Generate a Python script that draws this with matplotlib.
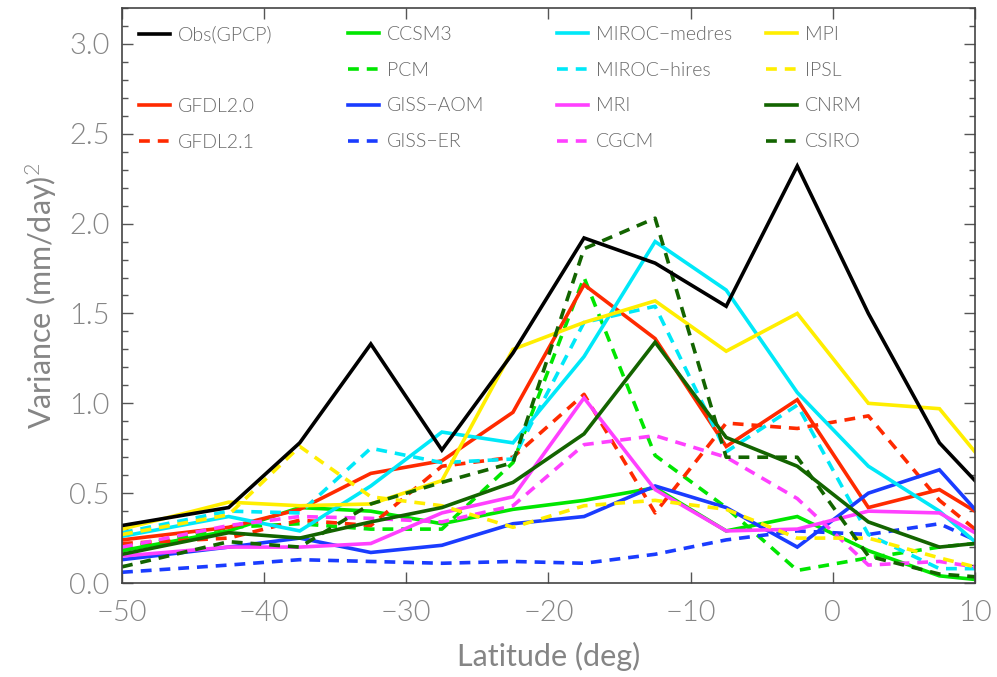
import matplotlib
matplotlib.use("Agg")
import matplotlib.pyplot as plt
from matplotlib.lines import Line2D
from matplotlib.legend import Legend
from matplotlib import font_manager as fm

lat = [-50, -42.5, -37.5, -32.5, -27.5, -22.5, -17.5, -12.5, -7.5, -2.5, 2.5, 7.5, 10]

obs     = [0.32, 0.42, 0.78, 1.33, 0.74, 1.28, 1.92, 1.78, 1.54, 2.32, 1.50, 0.78, 0.57]
ccsm3   = [0.18, 0.29, 0.42, 0.40, 0.33, 0.41, 0.46, 0.53, 0.29, 0.37, 0.18, 0.04, 0.02]
pcm     = [0.19, 0.31, 0.33, 0.30, 0.30, 0.67, 1.70, 0.71, 0.42, 0.07, 0.14, 0.20, 0.22]
gfdl20  = [0.24, 0.31, 0.41, 0.61, 0.68, 0.95, 1.66, 1.36, 0.76, 1.02, 0.42, 0.52, 0.40]
gfdl21  = [0.22, 0.25, 0.35, 0.32, 0.65, 0.70, 1.05, 0.39, 0.89, 0.86, 0.93, 0.46, 0.30]
gissaom = [0.13, 0.20, 0.25, 0.17, 0.21, 0.33, 0.37, 0.54, 0.42, 0.20, 0.50, 0.63, 0.41]
gisser  = [0.06, 0.10, 0.13, 0.12, 0.11, 0.12, 0.11, 0.16, 0.24, 0.29, 0.27, 0.33, 0.24]
mirocm  = [0.26, 0.37, 0.29, 0.54, 0.84, 0.78, 1.26, 1.90, 1.63, 1.06, 0.65, 0.40, 0.23]
miroch  = [0.28, 0.40, 0.39, 0.75, 0.67, 0.69, 1.45, 1.54, 0.73, 0.99, 0.27, 0.08, 0.08]
mri     = [0.15, 0.20, 0.20, 0.22, 0.39, 0.48, 1.03, 0.52, 0.29, 0.30, 0.40, 0.39, 0.28]
cgcm    = [0.20, 0.32, 0.37, 0.36, 0.34, 0.43, 0.77, 0.82, 0.70, 0.47, 0.10, 0.12, 0.09]
mpi     = [0.30, 0.45, 0.43, 0.44, 0.57, 1.30, 1.45, 1.57, 1.29, 1.50, 1.00, 0.97, 0.73]
ipsl    = [0.27, 0.38, 0.76, 0.48, 0.43, 0.31, 0.43, 0.46, 0.41, 0.25, 0.25, 0.14, 0.09]
cnrm    = [0.16, 0.28, 0.25, 0.34, 0.42, 0.56, 0.83, 1.34, 0.81, 0.65, 0.34, 0.20, 0.22]
csiro   = [0.09, 0.23, 0.20, 0.44, 0.56, 0.67, 1.86, 2.03, 0.70, 0.70, 0.15, 0.05, 0.035]

labels = ["Obs(GPCP)", "CCSM3", "PCM", "GFDL2.0", "GFDL2.1", "GISS\u2212AOM", "GISS\u2212ER",
          "MIROC\u2212medres", "MIROC\u2212hires", "MRI", "CGCM", "MPI", "IPSL", "CNRM", "CSIRO"]
series = [obs, ccsm3, pcm, gfdl20, gfdl21, gissaom, gisser, mirocm, miroch, mri, cgcm,
          mpi, ipsl, cnrm, csiro]

RED = "#ff2a00"; GRN = "#00e600"; BLU = "#1a3cff"; CYA = "#00e8f8"
MAG = "#ff40ff"; YEL = "#ffee00"; DGR = "#136400"
colors = ["black", GRN, GRN, RED, RED, BLU, BLU, CYA, CYA, MAG, MAG, YEL, YEL, DGR, DGR]
dashed = [False, False, True, False, True, False, True, False, True, False, True,
          False, True, False, True]

TXT = "#858585"
fam = "DejaVu Sans"
weight = "normal"
for cand in ["Lato", "Open Sans", "Roboto", "Inter"]:
    light = [f for f in fm.fontManager.ttflist if f.name == cand and
             (f.weight in (200, 300, "light", "extra-light", "ultralight"))]
    if light:
        fam = cand
        weight = light[0].weight
        break
plt.rcParams['font.family'] = [fam, 'DejaVu Sans']
plt.rcParams['font.weight'] = weight
plt.rcParams['mathtext.fontset'] = 'custom'
plt.rcParams['mathtext.rm'] = fam
plt.rcParams['mathtext.it'] = fam

fig = plt.figure(figsize=(9.97, 6.77), dpi=100)
ax = fig.add_axes([0.1224, 0.1388, 0.8555, 0.8495])

handles = {}
order = list(range(1, len(series))) + [0]
for i in order:
    ls = (0, (3.0, 2.2)) if dashed[i] else "-"
    ln, = ax.plot(lat, series[i], color=colors[i], lw=2.6, linestyle=ls,
                  solid_joinstyle="miter", label=labels[i])
    handles[labels[i]] = ln

blank = Line2D([], [], color="none", label=" ")
leg_cols = [["Obs(GPCP)", None, "GFDL2.0", "GFDL2.1"],
            ["CCSM3", "PCM", "GISS\u2212AOM", "GISS\u2212ER"],
            ["MIROC\u2212medres", "MIROC\u2212hires", "MRI", "CGCM"],
            ["MPI", "IPSL", "CNRM", "CSIRO"]]
col_x = [0.020, 0.265, 0.510, 0.755]
for cx, col in zip(col_x, leg_cols):
    hs = [handles[k] if k else blank for k in col]
    ls_ = [k if k else " " for k in col]
    leg = Legend(ax, hs, ls_, loc="upper left", bbox_to_anchor=(cx, 0.969),
                 frameon=False, fontsize=14, handlelength=1.6, handletextpad=0.42,
                 labelspacing=0.97, borderaxespad=0.0, borderpad=0.0)
    for t in leg.get_texts():
        t.set_color("#6a6a6a")
    ax.add_artist(leg)

ax.set_xlim(-50, 10)
ax.set_ylim(0, 3.2)
ax.set_xticks([-50, -40, -30, -20, -10, 0, 10])
ax.set_xticklabels(["\u221250", "\u221240", "\u221230", "\u221220", "\u221210", "0", "10"])
ax.set_yticks([0.0, 0.5, 1.0, 1.5, 2.0, 2.5, 3.0])
ax.set_yticklabels(["0.0", "0.5", "1.0", "1.5", "2.0", "2.5", "3.0"])
ax.set_yticks([i / 10 for i in range(0, 33)], minor=True)
ax.tick_params(axis="both", which="major", direction="in", length=8, width=1,
               colors="#555555", labelcolor=TXT, labelsize=21, top=True, right=True)
ax.tick_params(axis="y", which="minor", direction="in", length=4, width=1,
               colors="#555555", right=True)
ax.tick_params(axis="x", which="major", pad=12)
ax.tick_params(axis="y", which="major", pad=9)
for sp in ax.spines.values():
    sp.set_color("#444444")
    sp.set_linewidth(1.2)

ax.set_xlabel("Latitude (deg)", color=TXT, fontsize=22, labelpad=12)
ax.set_ylabel("Variance (mm/day)$^2$", color=TXT, fontsize=22, labelpad=7)

fig.savefig("out.png", dpi=100)
